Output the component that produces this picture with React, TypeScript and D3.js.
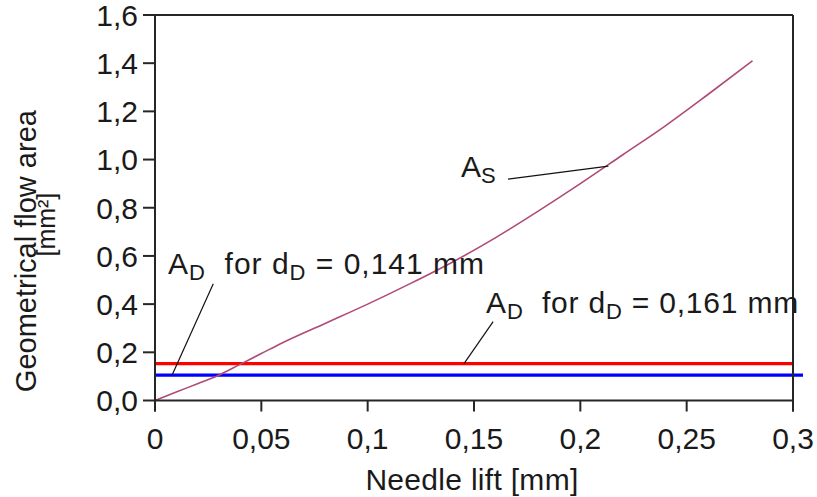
import React from "react";
import * as d3 from "d3";

const xTicks = [0, 0.05, 0.1, 0.15, 0.2, 0.25, 0.3];
const xTickLabels = ["0", "0,05", "0,1", "0,15", "0,2", "0,25", "0,3"];
const yTicks = [0, 0.2, 0.4, 0.6, 0.8, 1.0, 1.2, 1.4, 1.6];
const yTickLabels = ["0,0", "0,2", "0,4", "0,6", "0,8", "1,0", "1,2", "1,4", "1,6"];

const liftX = [0, 0.01, 0.02, 0.03, 0.04, 0.05, 0.06, 0.08, 0.1, 0.12, 0.14, 0.16, 0.18, 0.2, 0.22, 0.24, 0.26, 0.281];
const areaS = [0, 0.035, 0.07, 0.105, 0.15, 0.195, 0.24, 0.32, 0.4, 0.485, 0.575, 0.675, 0.785, 0.9, 1.02, 1.14, 1.27, 1.41];

const areaD161 = 0.153;
const areaD141 = 0.105;

const W = 817;
const H = 497;
const FONT = "'Liberation Sans', Arial, sans-serif";

export default function App() {
  const x = d3.scaleLinear().domain([0, 0.3]).range([155, 793]);
  const y = d3.scaleLinear().domain([0, 1.6]).range([400.5, 15]);

  const line = d3
    .line<number>()
    .x((_, i) => x(liftX[i]))
    .y((d) => y(d))
    .curve(d3.curveMonotoneX);

  const axisColor = "#262626";
  const fs = 30;
  const sub = 22;

  return (
    <svg
      width={W}
      height={H}
      style={{ position: "absolute", left: 0, top: 0, background: "#fff" }}
      fontFamily={FONT}
    >
      <rect x={0} y={0} width={W} height={H} fill="#fff" />
      {/* horizontal AD lines */}
      <line x1={x(0)} x2={x(0.3)} y1={y(areaD161)} y2={y(areaD161)} stroke="#ff0000" strokeWidth={3.2} />
      <line x1={x(0)} x2={x(0.3) + 10} y1={y(areaD141)} y2={y(areaD141)} stroke="#0000ff" strokeWidth={3.2} />
      {/* AS curve */}
      <path d={line(areaS) || ""} fill="none" stroke="#b04a78" strokeWidth={1.6} />

      {/* frame / axes */}
      <line x1={x(0)} x2={x(0)} y1={y(1.6)} y2={y(0) + 11} stroke={axisColor} strokeWidth={2} />
      <line x1={x(0.3)} x2={x(0.3)} y1={y(1.6)} y2={y(0) + 11} stroke={axisColor} strokeWidth={2} />
      <line x1={x(0) - 12} x2={x(0.3)} y1={y(1.6)} y2={y(1.6)} stroke={axisColor} strokeWidth={2} />
      <line x1={x(0)} x2={x(0.3)} y1={y(0)} y2={y(0)} stroke={axisColor} strokeWidth={2} />
      {yTicks.map((t, i) => (
        <g key={"y" + i}>
          <line x1={x(0) - 12} x2={x(0)} y1={y(t)} y2={y(t)} stroke={axisColor} strokeWidth={2} />
          <text x={x(0) - 17} y={y(t)} dy="0.36em" textAnchor="end" fontSize={fs} fill="#1a1a1a">
            {yTickLabels[i]}
          </text>
        </g>
      ))}
      {xTicks.map((t, i) => (
        <g key={"x" + i}>
          <line x1={x(t)} x2={x(t)} y1={y(0)} y2={y(0) + 11} stroke={axisColor} strokeWidth={2} />
          <text x={x(t)} y={y(0) + 48} textAnchor="middle" fontSize={fs} fill="#1a1a1a">
            {xTickLabels[i]}
          </text>
        </g>
      ))}

      {/* axis titles */}
      <text x={472} y={490} textAnchor="middle" fontSize={fs} fill="#1a1a1a" letterSpacing={0.3}>
        Needle lift [mm]
      </text>
      <text
        transform={`translate(36, ${y(0.62)}) rotate(-90)`}
        textAnchor="middle"
        fontSize={29}
        fill="#1a1a1a"
      >
        Geometrical flow area
      </text>
      <text
        transform={`translate(55, ${y(0.73)}) rotate(-90)`}
        textAnchor="middle"
        fontSize={25}
        fill="#1a1a1a"
      >
        [mm²]
      </text>

      {/* annotations */}
      <line x1={x(0.166)} y1={y(0.919)} x2={x(0.2132)} y2={y(0.973)} stroke="#111" strokeWidth={1.2} />
      <text x={x(0.1439)} y={y(0.927)} fontSize={fs} fill="#1a1a1a">
        A<tspan fontSize={sub} dy={6}>S</tspan>
      </text>

      <line x1={x(0.0274)} y1={y(0.485)} x2={x(0.008)} y2={y(areaD141)} stroke="#111" strokeWidth={1.2} />
      <text x={x(0.0061)} y={y(0.523)} fontSize={fs} fill="#1a1a1a" letterSpacing={1}>
        A<tspan fontSize={sub} dy={6}>D</tspan>
        <tspan dy={-6}>{"\u00a0 for d"}</tspan>
        <tspan fontSize={sub} dy={6}>D</tspan>
        <tspan dy={-6}> = 0,141 mm</tspan>
      </text>

      <line x1={x(0.159)} y1={y(0.327)} x2={x(0.1453)} y2={y(areaD161)} stroke="#111" strokeWidth={1.2} />
      <text x={x(0.1557)} y={y(0.365)} fontSize={fs} fill="#1a1a1a" letterSpacing={0.8}>
        A<tspan fontSize={sub} dy={6}>D</tspan>
        <tspan dy={-6}>{"\u00a0 for d"}</tspan>
        <tspan fontSize={sub} dy={6}>D</tspan>
        <tspan dy={-6}> = 0,161 mm</tspan>
      </text>
    </svg>
  );
}
